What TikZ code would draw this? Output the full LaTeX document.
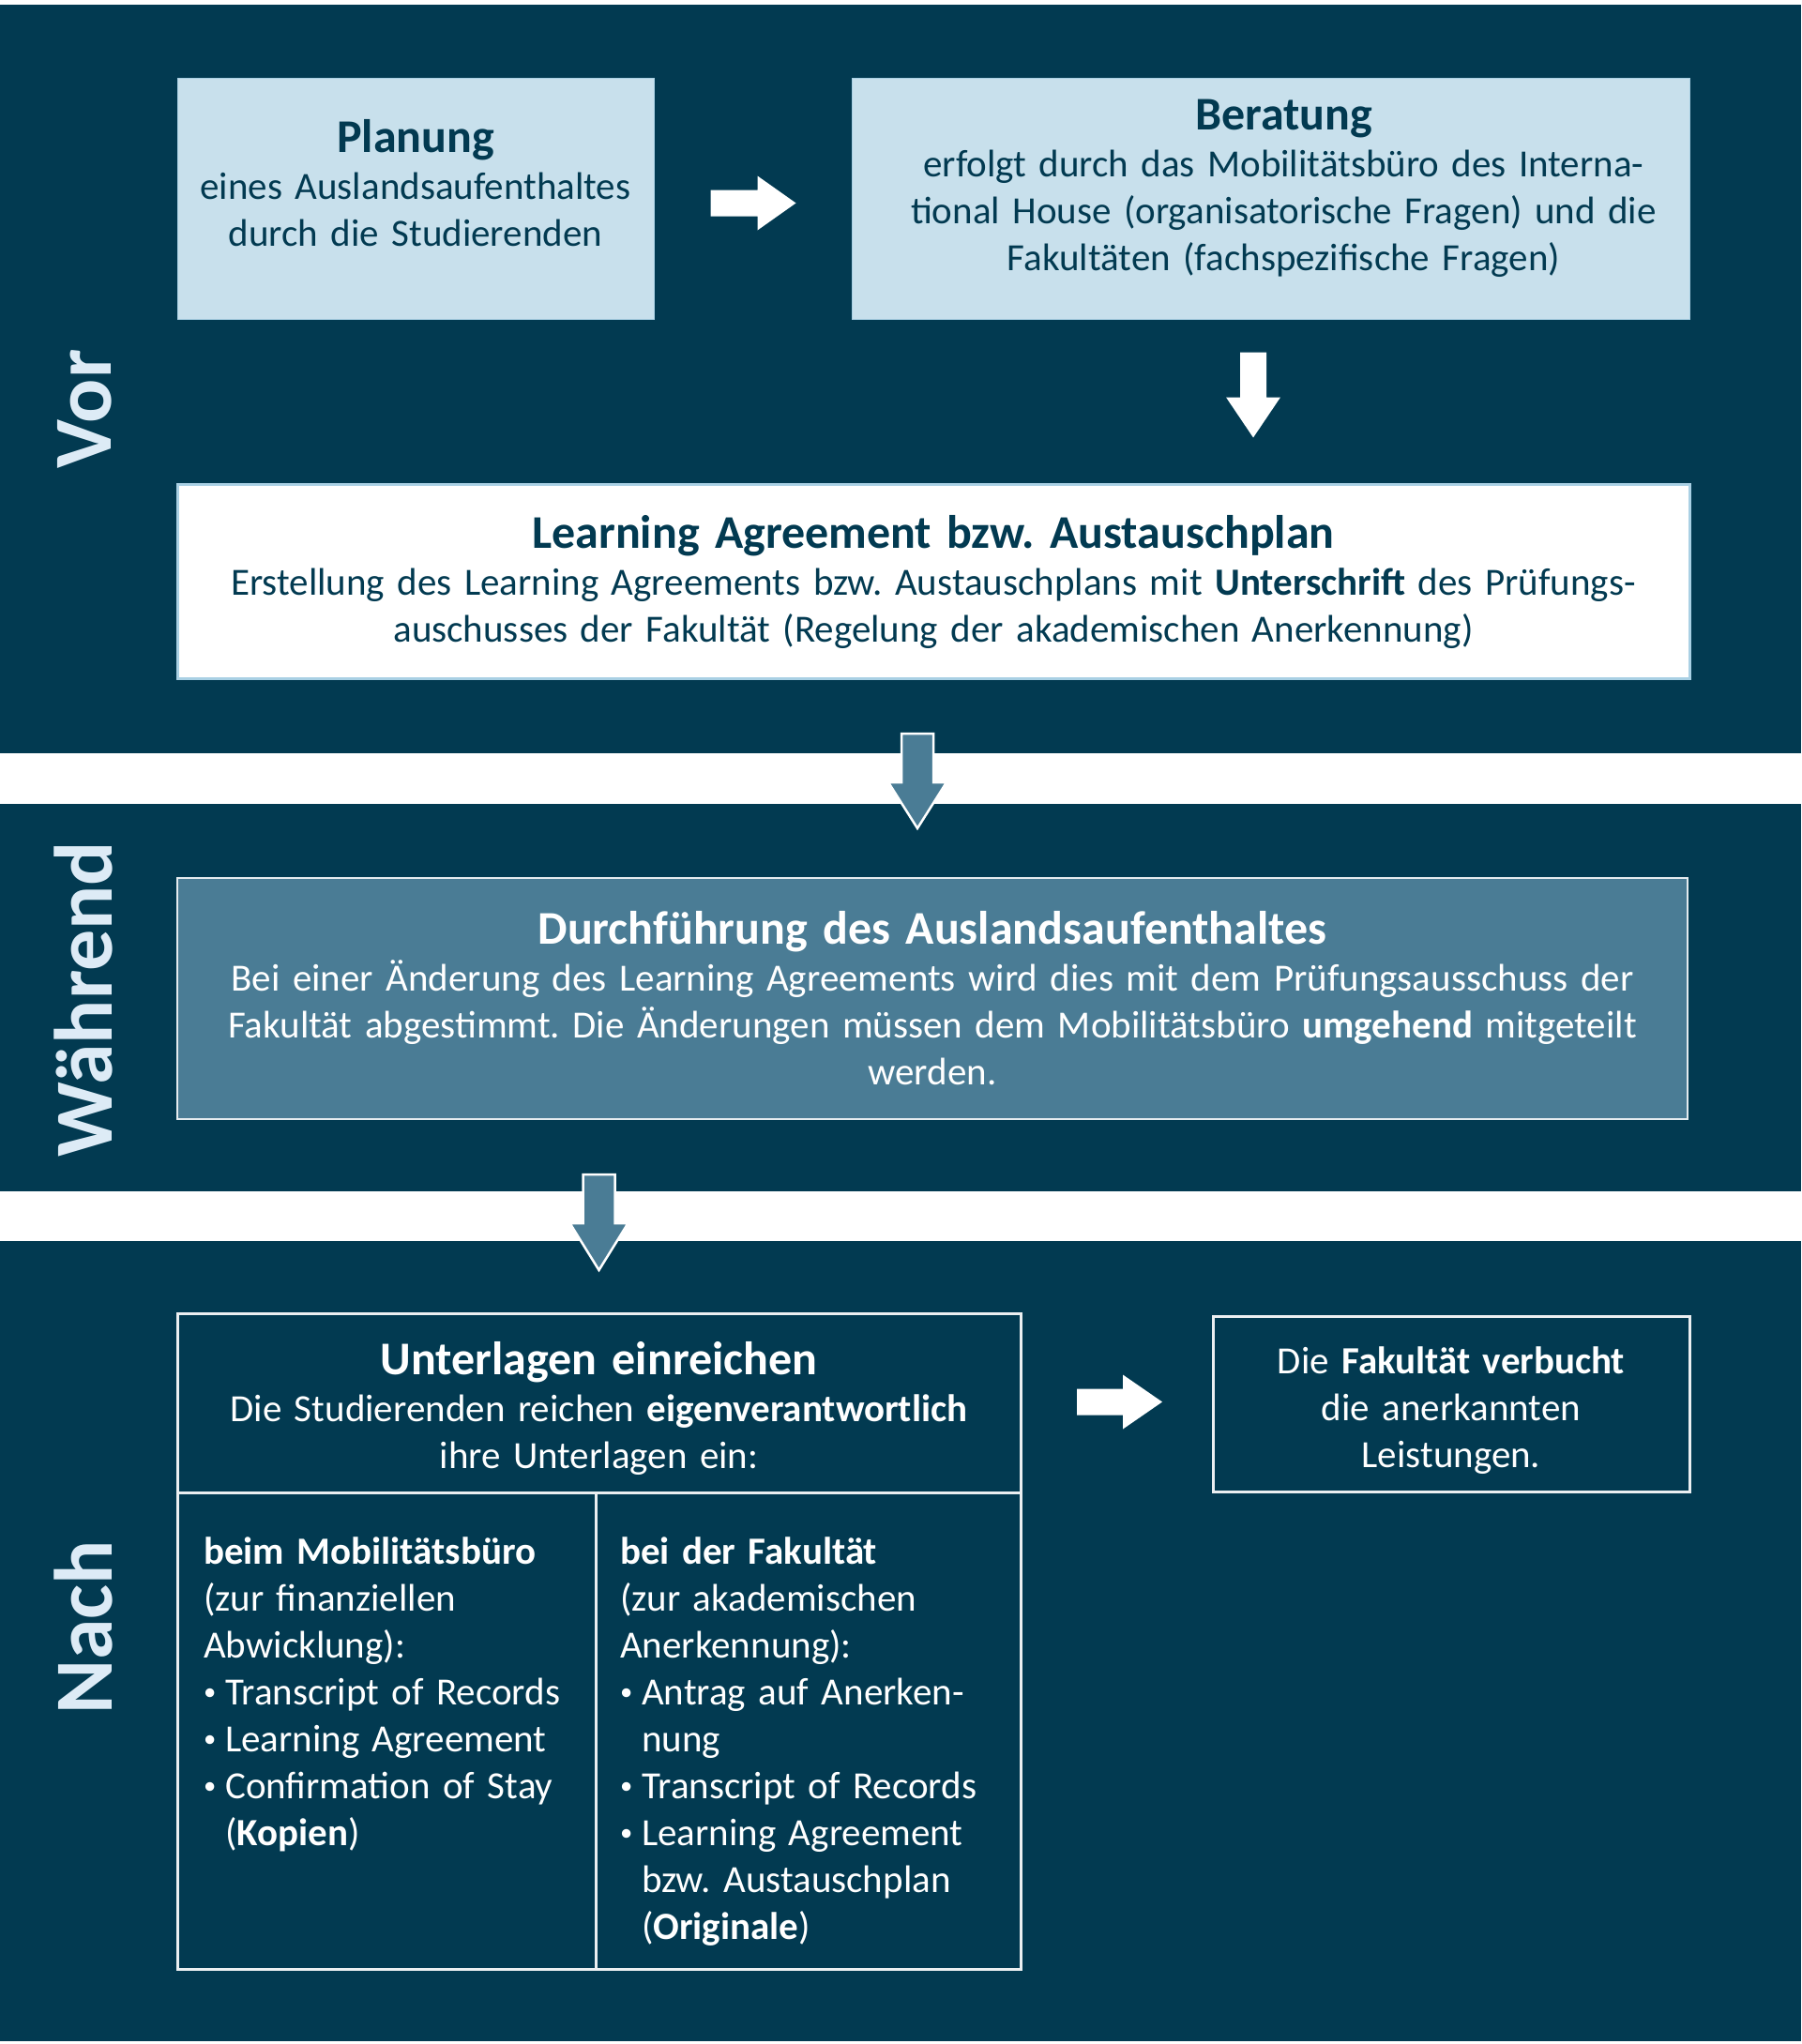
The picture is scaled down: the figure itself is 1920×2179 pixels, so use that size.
\documentclass[tikz,border=0pt]{standalone}
\usepackage{xcolor}
\usepackage{graphicx}
\usepackage{fontspec}
\setmainfont{Carlito}[WordSpace=1.45]
\usepackage{tikz}
\usetikzlibrary{positioning,calc}

\definecolor{navy}{HTML}{023A51}
\definecolor{paleblue}{HTML}{C8E0EC}
\definecolor{paleline}{HTML}{A9D0E4}
\definecolor{steel}{HTML}{4A7C95}
\definecolor{labelblue}{HTML}{DDEBF6}

\newcommand{\ttl}[1]{{\fontsize{50}{52}\selectfont\bfseries #1}}
\newcommand{\itm}{\makebox[23pt][l]{\raisebox{5pt}{\scalebox{0.65}{\textbullet}}}}
\newcommand{\ind}{\hspace*{23pt}}
\frenchspacing

\begin{document}
\begin{tikzpicture}[x=1pt, y=-1pt,
    lightbox/.style={fill=paleblue, draw=paleline, line width=1pt, inner sep=0pt},
    labox/.style={fill=white, draw=paleline, line width=3pt, inner sep=0pt, text=navy, align=center, font=\fontsize{41}{50}\selectfont},
    steelbox/.style={fill=steel, draw=white!85!steel, line width=2.5pt, inner sep=0pt, text=white, align=center, font=\fontsize{41}{50}\selectfont},
    darkbox/.style={draw=white!92!navy, line width=3pt, inner sep=0pt, outer sep=0pt},
    navytext/.style={text=navy, align=center, inner sep=0pt, font=\fontsize{41}{50}\selectfont},
    whitetext/.style={text=white, align=center, inner sep=0pt, font=\fontsize{41}{50}\selectfont},
    listtext/.style={text=white, align=left, inner sep=0pt, anchor=north west, font=\fontsize{41}{50}\selectfont},
    phase/.style={text=labelblue, rotate=90, inner sep=0pt, font=\fontsize{88}{88}\selectfont\bfseries},
    whitearrow/.style={fill=white},
    steelarrow/.style={fill=steel, draw=white, line width=2.5pt, line join=miter}]

    \useasboundingbox (0,0) rectangle (1920,2179);
    \fill[white] (0,0) rectangle (1920,2179);
    \fill[navy] (0,5) rectangle (1920,803);
    \fill[navy] (0,857) rectangle (1920,1270);
    \fill[navy] (0,1323) rectangle (1920,2176);

    \node[phase] (vor) at (90,436) {Vor};
    \node[phase] (waehrend) at (89,1065) {Während};
    \node[phase] (nach) at (89,1735) {Nach};

    % Vor
    \node[lightbox, minimum width=508pt, minimum height=257pt] (planung) at (443,211.5) {};
    \node[navytext] (planungtext) at ($(planung.center)+(0,-16)$) {\ttl{Planung}\\eines Auslandsaufenthaltes\\durch die Studierenden};
    \node[lightbox, minimum width=893pt, minimum height=257pt] (beratung) at (1354.5,211.5) {};
    \node[navytext] (beratungtext) at ($(beratung.center)+(14,-11)$) {\ttl{Beratung}\\erfolgt durch das Mobilitätsbüro des Interna-\\tional House (organisatorische Fragen) und die\\Fakultäten (fachspezifische Fragen)};
    \node[labox, minimum width=1612pt, minimum height=207pt] (la) at (995,620) {\ttl{Learning Agreement bzw. Austauschplan}\\Erstellung des Learning Agreements bzw. Austauschplans mit \textbf{Unterschrift} des Prüfungs-\\auschusses der Fakultät (Regelung der akademischen Anerkennung)};

    % Waehrend
    \node[steelbox, minimum width=1610pt, minimum height=257pt] (durch) at (994,1064.5) {\ttl{Durchführung des Auslandsaufenthaltes}\\Bei einer Änderung des Learning Agreements wird dies mit dem Prüfungsausschuss der\\Fakultät abgestimmt. Die Änderungen müssen dem Mobilitätsbüro \textbf{umgehend} mitgeteilt\\werden.};

    % Nach
    \node[darkbox, minimum width=899pt, minimum height=191pt] (unterlagen) at (638.5,1495.5) {};
    \node[whitetext] (unterlagentext) at ($(unterlagen.center)+(0,6)$) {\ttl{Unterlagen einreichen}\\Die Studierenden reichen \textbf{eigenverantwortlich}\\ihre Unterlagen ein:};
    \node[darkbox, minimum width=446pt, minimum height=508pt, below right=0pt and 0pt of unterlagen.south west] (mobil) {};
    \node[darkbox, minimum width=453pt, minimum height=508pt, right=0pt of mobil] (fak) {};
    \node[listtext] (mobiltext) at ($(mobil.north west)+(28,48)$) {\textbf{beim Mobilitätsbüro}\\(zur finanziellen\\Abwicklung):\\\itm Transcript of Records\\\itm Learning Agreement\\\itm Confirmation of Stay\\\ind(\textbf{Kopien})};
    \node[listtext] (faktext) at ($(fak.north west)+(26,48)$) {\textbf{bei der Fakultät}\\(zur akademischen\\Anerkennung):\\\itm Antrag auf Anerken-\\\ind nung\\\itm Transcript of Records\\\itm Learning Agreement\\\ind bzw. Austauschplan\\\ind(\textbf{Originale})};
    \node[darkbox, minimum width=508pt, minimum height=187pt] (verbucht) at (1547,1496.5) {};
    \node[whitetext] (verbuchttext) at ($(verbucht.center)+(0,7)$) {Die \textbf{Fakultät verbucht}\\die anerkannten\\Leistungen.};

    % Pfeile
    \coordinate (a1) at ($(planung.east)+(60,5)$);
    \coordinate (d1) at ($(beratung.south)+(-18.5,35)$);
    \coordinate (a2) at ($(la.south)+(-17,57)$);
    \coordinate (a3) at ($(unterlagen.north)+(0,-148)$);
    \coordinate (a4) at ($(verbucht.west)+(-145,-2)$);
    \fill[whitearrow] (a1) ++(0,-14) -- ++(50,0) -- ++(0,-15) -- ++(41,29) -- ++(-41,29) -- ++(0,-15) -- ++(-50,0) -- cycle;
    \fill[whitearrow] (d1) ++(-14,0) -- ++(0,48) -- ++(-15,0) -- ++(29,43) -- ++(29,-43) -- ++(-15,0) -- ++(0,-48) -- cycle;
    \draw[steelarrow] (a2) ++(-17,0) -- ++(0,52) -- ++(-14,0) -- ++(31,49) -- ++(31,-49) -- ++(-14,0) -- ++(0,-52) -- cycle;
    \draw[steelarrow] (a3) ++(-17,0) -- ++(0,52) -- ++(-14,0) -- ++(31,50) -- ++(31,-50) -- ++(-14,0) -- ++(0,-52) -- cycle;
    \fill[whitearrow] (a4) ++(0,-14) -- ++(49,0) -- ++(0,-15) -- ++(42,29) -- ++(-42,29) -- ++(0,-15) -- ++(-49,0) -- cycle;
\end{tikzpicture}
\end{document}
